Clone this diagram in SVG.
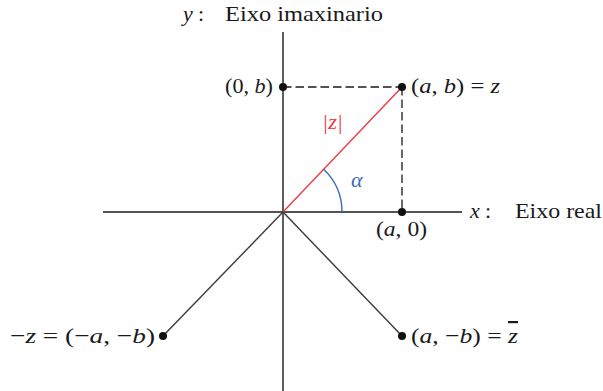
<svg xmlns="http://www.w3.org/2000/svg" width="603" height="391" viewBox="0 0 603 391">
<style>
text{font-family:"Liberation Serif","Times New Roman",serif;font-size:22px;fill:#1a1a1a}
.i{font-style:italic}
.ax{stroke:#1a1a1a;stroke-width:1.4;fill:none}
.ln{stroke:#3a3a3a;stroke-width:1.4;fill:none}
.dash{stroke:#1a1a1a;stroke-width:1.3;stroke-dasharray:8.5 4;fill:none}
.dot{fill:#111}
</style>
<rect width="603" height="391" fill="#fff"/>
<g id="axes">
<line class="ax" x1="103" y1="212" x2="462" y2="212"/>
<line class="ax" x1="283" y1="32" x2="283" y2="391"/>
<text x="183" y="21" class="i">y</text><text x="198" y="21">:</text>
<text x="225" y="21" textLength="158" lengthAdjust="spacingAndGlyphs">Eixo imaxinario</text>
<text x="470" y="218" class="i">x</text><text x="485" y="218">:</text>
<text x="515" y="218" textLength="87" lengthAdjust="spacingAndGlyphs">Eixo real</text>
</g>
<g id="connectors">
<line class="dash" x1="283" y1="87" x2="402" y2="87"/>
<line class="dash" x1="402" y1="87" x2="402" y2="212"/>
<line x1="283" y1="212" x2="402" y2="87" stroke="#ee3a44" stroke-width="1.4"/>
<line class="ln" x1="283" y1="212" x2="163" y2="336"/>
<line class="ln" x1="283" y1="212" x2="402" y2="336"/>
<path d="M323.7,169.3 A59,59 0 0 1 342,212" fill="none" stroke="#3b6bb5" stroke-width="1.4"/>
<text x="322" y="129" class="i" style="fill:#ee3a44" textLength="21" lengthAdjust="spacingAndGlyphs">|z|</text>
<text x="351" y="187" class="i" style="fill:#3b6bb5">α</text>
</g>
<g id="node-z">
<circle class="dot" cx="402" cy="87" r="4"/>
<text x="411" y="93" textLength="89" lengthAdjust="spacingAndGlyphs">(<tspan class="i">a</tspan>, <tspan class="i">b</tspan>) = <tspan class="i">z</tspan></text>
</g>
<g id="node-0b">
<circle class="dot" cx="283" cy="87" r="4"/>
<text x="225" y="93" textLength="48" lengthAdjust="spacingAndGlyphs">(0, <tspan class="i">b</tspan>)</text>
</g>
<g id="node-a0">
<circle class="dot" cx="402" cy="212" r="4"/>
<text x="376" y="236" textLength="51" lengthAdjust="spacingAndGlyphs">(<tspan class="i">a</tspan>, 0)</text>
</g>
<g id="node-minus-z">
<circle class="dot" cx="163" cy="336" r="4"/>
<text x="10" y="343" textLength="145" lengthAdjust="spacingAndGlyphs">−<tspan class="i">z</tspan> = (−<tspan class="i">a</tspan>, −<tspan class="i">b</tspan>)</text>
</g>
<g id="node-conj">
<circle class="dot" cx="402" cy="336" r="4"/>
<text x="411" y="343" textLength="107" lengthAdjust="spacingAndGlyphs">(<tspan class="i">a</tspan>, −<tspan class="i">b</tspan>) = <tspan class="i" text-decoration="overline">z</tspan></text>
</g>
</svg>
